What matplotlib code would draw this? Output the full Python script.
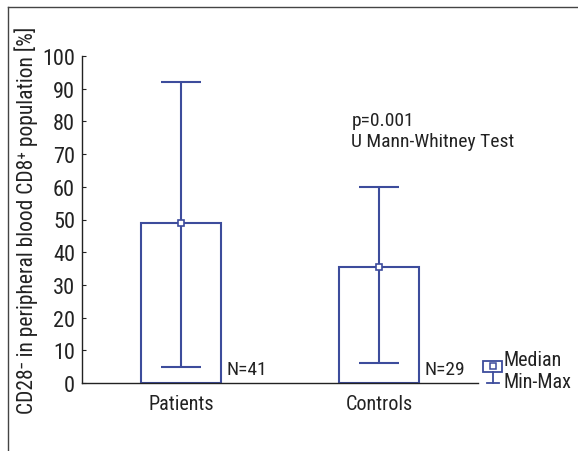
import matplotlib
matplotlib.use("Agg")
import matplotlib.pyplot as plt
from matplotlib.lines import Line2D
from matplotlib.patches import Rectangle

categories = ["Patients", "Controls"]
medians = [49, 35.5]
mins = [5, 6]
maxs = [92, 60]
counts = ["N=41", "N=29"]
yticks = [0, 10, 20, 30, 40, 50, 60, 70, 80, 90, 100]

BLUE = '#3d4c9c'
DARK = '#222222'

plt.rcParams['font.family'] = ['Roboto Condensed', 'Liberation Sans Narrow', 'Lato', 'DejaVu Sans']

fig = plt.figure(figsize=(5.78, 4.52), dpi=100)
ax = fig.add_axes([82/578, 68/452, 396/578, 327/452])
x = [1, 2]
ax.bar(x, medians, width=0.4, color='white', edgecolor=BLUE, linewidth=1.5, zorder=2)
ax.vlines(x, mins, maxs, color=BLUE, linewidth=1.5, zorder=3)
ax.hlines(maxs, [v - 0.1 for v in x], [v + 0.1 for v in x], color=BLUE, linewidth=1.5, zorder=3)
ax.hlines(mins, [v - 0.1 for v in x], [v + 0.1 for v in x], color=BLUE, linewidth=1.5, zorder=3)
ax.plot(x, medians, 's', ms=4.5, mfc='white', mec=BLUE, mew=1.2, zorder=4, linestyle='none')
for xi, lab in zip(x, counts):
    ax.text(xi + 0.23, 1.5, lab, fontsize=14, color=DARK, va='bottom', ha='left')

ax.text(1.86, 80.5, "p=0.001", fontsize=14, color=DARK, va='center', ha='left')
ax.text(1.86, 74.0, "U Mann-Whitney Test", fontsize=14, color=DARK, va='center', ha='left')

ax.set_xlim(0.5, 2.5)
ax.set_ylim(0, 100)
ax.set_yticks(yticks)
ax.set_xticks(x)
ax.set_xticklabels(categories)
ax.tick_params(axis='both', direction='in', length=3, width=0.8, colors=DARK, labelsize=16)
ax.tick_params(axis='y', pad=5)
ax.tick_params(axis='x', labelsize=14.5, pad=8)
for s in ['top', 'right']:
    ax.spines[s].set_visible(False)
for s in ['left', 'bottom']:
    ax.spines[s].set_color(DARK)
    ax.spines[s].set_linewidth(1.0)
ax.set_ylabel("CD28\u207b in peripheral blood CD8\u207a population [%]", fontsize=15.5, color=DARK, labelpad=3)

# legend symbols (axes coordinates)
tr = ax.transAxes
ax.add_patch(Rectangle((1.013, 0.034), 0.048, 0.033, transform=tr, fill=False, edgecolor=BLUE, lw=1.3, clip_on=False))
ax.add_line(Line2D([1.037, 1.037], [0.0, 0.034], transform=tr, color=BLUE, lw=1.3, clip_on=False))
ax.add_line(Line2D([1.022, 1.052], [0.0, 0.0], transform=tr, color=BLUE, lw=1.3, clip_on=False))
ax.add_line(Line2D([1.037], [0.0505], transform=tr, marker='s', ms=4, mfc='white', mec=BLUE, mew=1.1, clip_on=False))
ax.text(1.065, 0.072, "Median", transform=tr, fontsize=14.5, color=DARK, va='center', ha='left')
ax.text(1.065, 0.004, "Min-Max", transform=tr, fontsize=14.5, color=DARK, va='center', ha='left')

# outer frame (top and left)
fig.add_artist(Line2D([8/578, 8/578], [0, 1 - 8/452], transform=fig.transFigure, color='#444444', lw=1))
fig.add_artist(Line2D([8/578, 1], [1 - 8/452, 1 - 8/452], transform=fig.transFigure, color='#444444', lw=1))

fig.savefig("out.png", dpi=100)
